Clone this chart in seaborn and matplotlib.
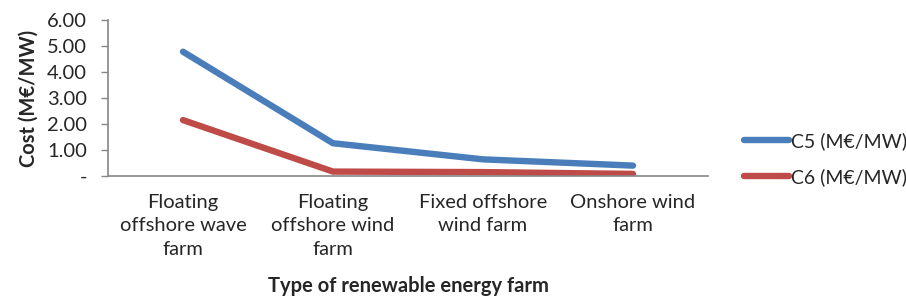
import matplotlib
matplotlib.use("Agg")
import matplotlib.pyplot as plt
import seaborn as sns
import pandas as pd

farms = ["Floating\noffshore wave\nfarm", "Floating\noffshore wind\nfarm",
         "Fixed offshore\nwind farm", "Onshore wind\nfarm"]
c5 = [4.78, 1.26, 0.64, 0.40]
c6 = [2.15, 0.17, 0.15, 0.08]
series = ["C5 (M€/MW)", "C6 (M€/MW)"]
yticks = [0, 1, 2, 3, 4, 5, 6]
ytick_labels = ["-", "1.00", "2.00", "3.00", "4.00", "5.00", "6.00"]

df = pd.DataFrame({
    "farm": farms * 2,
    "cost": c5 + c6,
    "series": [series[0]] * 4 + [series[1]] * 4,
})

sns.set_style("white")
plt.rcParams["font.family"] = ["Lato", "DejaVu Sans"]
fs = 14.5

fig = plt.figure(figsize=(9.06, 3.05), dpi=100)
ax = fig.add_axes([108 / 906, 1 - 176 / 305, 600 / 906, 156 / 305])

sns.lineplot(data=df, x="farm", y="cost", hue="series", sort=False,
             palette=["#4A7EBB", "#BE4B48"], linewidth=4.6, ax=ax,
             solid_capstyle="round", legend=True)

ax.set_xlim(-0.5, 3.5)
ax.set_ylim(0, 6)
ax.set_yticks(yticks)
ax.set_yticklabels(ytick_labels, fontsize=fs)
ax.tick_params(axis="y", length=5, width=1, color="#868686", direction="out", pad=10, left=True)
ax.tick_params(axis="x", length=0, labelsize=fs, pad=13)
for lab in ax.get_xticklabels():
    lab.set_linespacing(1.45)

for s in ["top", "right"]:
    ax.spines[s].set_visible(False)
for s in ["left", "bottom"]:
    ax.spines[s].set_color("#868686")
    ax.spines[s].set_linewidth(1.2)

ax.set_ylabel("Cost (M€/MW)", fontsize=fs, fontweight="bold", labelpad=6)
ax.set_xlabel("Type of renewable energy farm", fontsize=fs, fontweight="bold", labelpad=13)

handles, labels = ax.get_legend_handles_labels()
ax.legend_.remove()
fig.legend(handles, labels, loc="center left", bbox_to_anchor=(736 / 906, 1 - 159 / 305),
           frameon=False, fontsize=14, handlelength=2.3, handletextpad=0.15,
           labelspacing=0.95, borderaxespad=0)

fig.savefig("out.png", dpi=100)
